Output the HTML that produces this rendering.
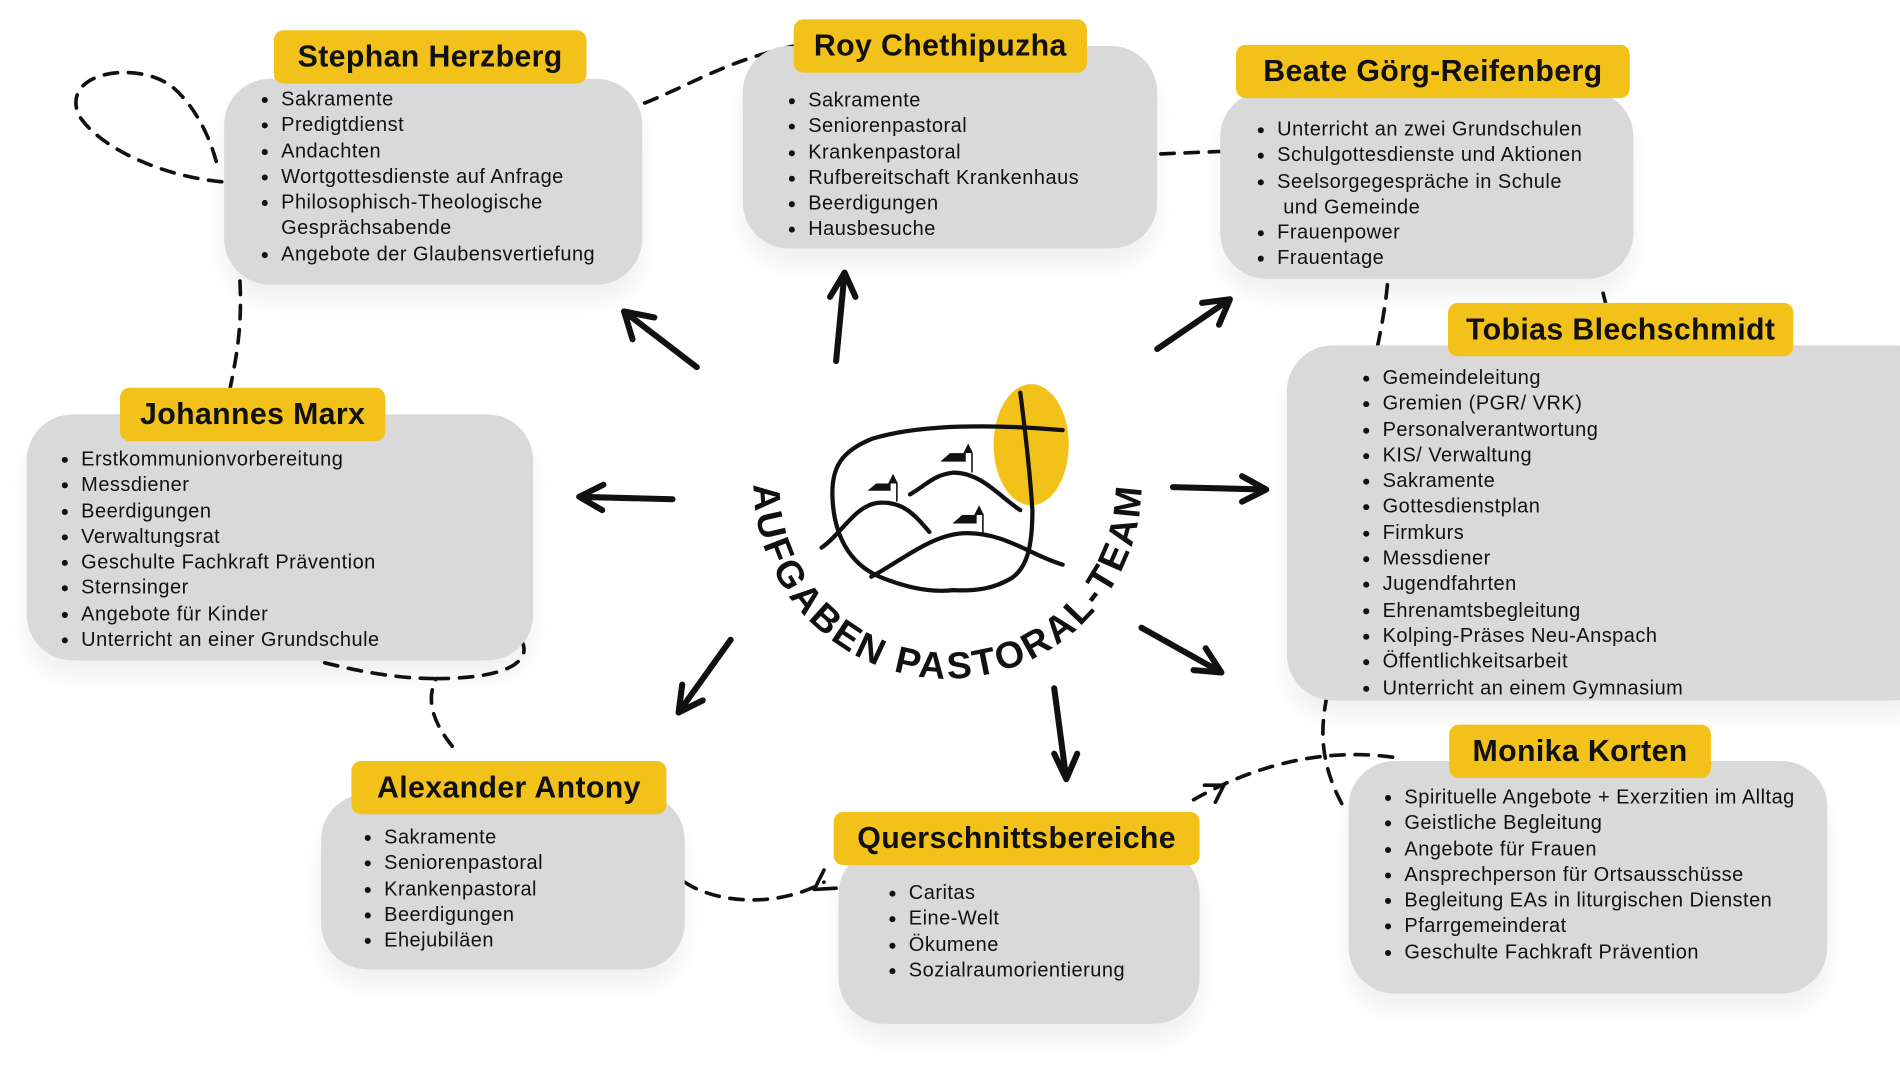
<!DOCTYPE html>
<html><head><meta charset="utf-8"><style>
html,body{margin:0;padding:0;background:#fff;}
body{width:1900px;height:1067px;overflow:hidden;position:relative;}
#w{position:absolute;left:0;top:0;width:1568px;height:880px;transform:scale(1.21173);transform-origin:0 0;font-family:"Liberation Sans",sans-serif;}
.box{position:absolute;background:#d9d9d9;border-radius:38px;box-shadow:0 14px 18px rgba(0,0,0,0.06);}
.lab{position:absolute;background:#f2c21b;border-radius:8px;font-weight:bold;font-size:25px;color:#111;text-align:center;line-height:44px;white-space:nowrap;letter-spacing:0.3px;}
ul{position:absolute;margin:0;padding:0 0 0 18px;font-size:16.5px;line-height:21.3px;color:#111;letter-spacing:0.4px;white-space:nowrap;}
svg{position:absolute;left:0;top:0;}
</style></head><body><div id="w">
<svg width="1568" height="880" viewBox="0 0 1568 880">
<g fill="none" stroke="#111" stroke-width="3" stroke-dasharray="11 9" stroke-linecap="round">
<path d="M183 150 C130 145 80 120 65 95 C50 60 110 50 140 70 C160 85 175 115 180 140"/>
<path d="M532 85 C570 70 600 50 655 38"/>
<path d="M958 127 L1007 125"/>
<path d="M198 232 C200 270 195 295 190 320"/>
<path d="M1145 235 C1143 255 1140 270 1137 285"/>
<path d="M1323 242 L1325 250"/>
<path d="M430 528 C440 545 420 560 360 560 C350 580 360 600 375 618"/>
<path d="M268 547 C300 555 330 560 360 560"/>
<path d="M565 728 C590 745 640 750 680 728"/>
<path d="M985 660 C1020 640 1080 615 1150 625"/>
<path d="M1095 575 C1090 600 1088 630 1110 668"/>
</g>
<g fill="none" stroke="#111" stroke-width="5" stroke-linecap="round" stroke-linejoin="round">
<path d="M575 303 L515 257 M515 257 L540 262 M515 257 L522 280"/>
<path d="M690 298 L697 225 M697 225 L685 245 M697 225 L706 245"/>
<path d="M955 288 L1015 247 M1015 247 L992 250 M1015 247 L1006 268"/>
<path d="M555 412 L478 410 M478 410 L498 400 M478 410 L497 421"/>
<path d="M968 402 L1045 404 M1045 404 L1025 393 M1045 404 L1025 414"/>
<path d="M603 528 L560 588 M560 588 L563 565 M560 588 L580 578"/>
<path d="M870 568 L880 643 M880 643 L870 622 M880 643 L889 622"/>
<path d="M942 518 L1008 555 M1008 555 L995 535 M1008 555 L985 553"/>
</g>
<g fill="none" stroke="#111" stroke-width="3" stroke-linecap="round" stroke-linejoin="round">
<path d="M672 734 L680 718 M672 734 L690 733"/>
<path d="M1010 648 L994 648 M1010 648 L1003 662"/>
</g>
<ellipse cx="851" cy="367" rx="31" ry="50" fill="#f2c21b"/>
<g fill="none" stroke="#111" stroke-width="3.5" stroke-linecap="round" stroke-linejoin="round">
<path d="M877 355 C820 350 760 350 720 362 C695 372 686 385 687 410 C688 440 700 465 726 476 C750 486 770 489 787 487 C805 488 820 486 835 477 C848 468 852 450 852 421 C850 390 846 355 842 324"/>
<path d="M678 452 C695 440 705 418 724 415 C745 413 755 425 767 439"/>
<path d="M751 408 C765 400 770 392 787 390 C810 390 825 410 842 421"/>
<path d="M719 476 C745 462 770 440 798 440 C830 440 850 458 877 466"/>
</g>
<g fill="#111">
<path d="M716 405 L723 399 L735 399 L735 405 Z M733 399 L737 391 L741 399 Z"/>
<rect x="739.5" y="399" width="1.3" height="15"/>
<path d="M776 381 L784 374 L797 374 L797 381 Z M795 374 L799 366 L803 374 Z"/>
<rect x="801.5" y="374" width="1.3" height="16"/>
<path d="M786 432 L794 425 L806 425 L806 432 Z M804 425 L808 417 L812 425 Z"/>
<rect x="810.5" y="425" width="1.3" height="15"/>
</g>
<defs><path id="arc" d="M622 400 A160 160 0 0 0 942 400"/></defs>
<text font-family="Liberation Sans, sans-serif" font-weight="bold" font-size="31" fill="#111"><textPath href="#arc" textLength="500" lengthAdjust="spacing">AUFGABEN PASTORAL-TEAM</textPath></text>
</svg>

<div class="box" style="left:185px;top:65px;width:345px;height:170px"></div>
<div class="lab" style="left:226px;top:25px;width:258px">Stephan Herzberg</div>
<ul style="left:214px;top:72px"><li>Sakramente</li><li>Predigtdienst</li><li>Andachten</li><li>Wortgottesdienste auf Anfrage</li><li>Philosophisch-Theologische<br>Gesprächsabende</li><li>Angebote der Glaubensvertiefung</li></ul>

<div class="box" style="left:613px;top:38px;width:342px;height:167px"></div>
<div class="lab" style="left:655px;top:16px;width:242px">Roy Chethipuzha</div>
<ul style="left:649px;top:73px"><li>Sakramente</li><li>Seniorenpastoral</li><li>Krankenpastoral</li><li>Rufbereitschaft Krankenhaus</li><li>Beerdigungen</li><li>Hausbesuche</li></ul>

<div class="box" style="left:1007px;top:75px;width:341px;height:155px"></div>
<div class="lab" style="left:1020px;top:37px;width:325px">Beate Görg-Reifenberg</div>
<ul style="left:1036px;top:97px"><li>Unterricht an zwei Grundschulen</li><li>Schulgottesdienste und Aktionen</li><li>Seelsorgegespräche in Schule<br>&nbsp;und Gemeinde</li><li>Frauenpower</li><li>Frauentage</li></ul>

<div class="box" style="left:1062px;top:285px;width:540px;height:293px"></div>
<div class="lab" style="left:1195px;top:250px;width:285px">Tobias Blechschmidt</div>
<ul style="left:1123px;top:302px"><li>Gemeindeleitung</li><li>Gremien (PGR/ VRK)</li><li>Personalverantwortung</li><li>KIS/ Verwaltung</li><li>Sakramente</li><li>Gottesdienstplan</li><li>Firmkurs</li><li>Messdiener</li><li>Jugendfahrten</li><li>Ehrenamtsbegleitung</li><li>Kolping-Präses Neu-Anspach</li><li>Öffentlichkeitsarbeit</li><li>Unterricht an einem Gymnasium</li></ul>

<div class="box" style="left:22px;top:342px;width:418px;height:203px"></div>
<div class="lab" style="left:99px;top:320px;width:219px">Johannes Marx</div>
<ul style="left:49px;top:369px"><li>Erstkommunionvorbereitung</li><li>Messdiener</li><li>Beerdigungen</li><li>Verwaltungsrat</li><li>Geschulte Fachkraft Prävention</li><li>Sternsinger</li><li>Angebote für Kinder</li><li>Unterricht an einer Grundschule</li></ul>

<div class="box" style="left:265px;top:655px;width:300px;height:145px"></div>
<div class="lab" style="left:290px;top:628px;width:260px">Alexander Antony</div>
<ul style="left:299px;top:681px"><li>Sakramente</li><li>Seniorenpastoral</li><li>Krankenpastoral</li><li>Beerdigungen</li><li>Ehejubiläen</li></ul>

<div class="box" style="left:692px;top:700px;width:298px;height:145px"></div>
<div class="lab" style="left:688px;top:670px;width:302px">Querschnittsbereiche</div>
<ul style="left:732px;top:727px"><li>Caritas</li><li>Eine-Welt</li><li>Ökumene</li><li>Sozialraumorientierung</li></ul>

<div class="box" style="left:1113px;top:628px;width:395px;height:192px"></div>
<div class="lab" style="left:1196px;top:598px;width:216px">Monika Korten</div>
<ul style="left:1141px;top:648px"><li>Spirituelle Angebote + Exerzitien im Alltag</li><li>Geistliche Begleitung</li><li>Angebote für Frauen</li><li>Ansprechperson für Ortsausschüsse</li><li>Begleitung EAs in liturgischen Diensten</li><li>Pfarrgemeinderat</li><li>Geschulte Fachkraft Prävention</li></ul>
</div></body></html>
